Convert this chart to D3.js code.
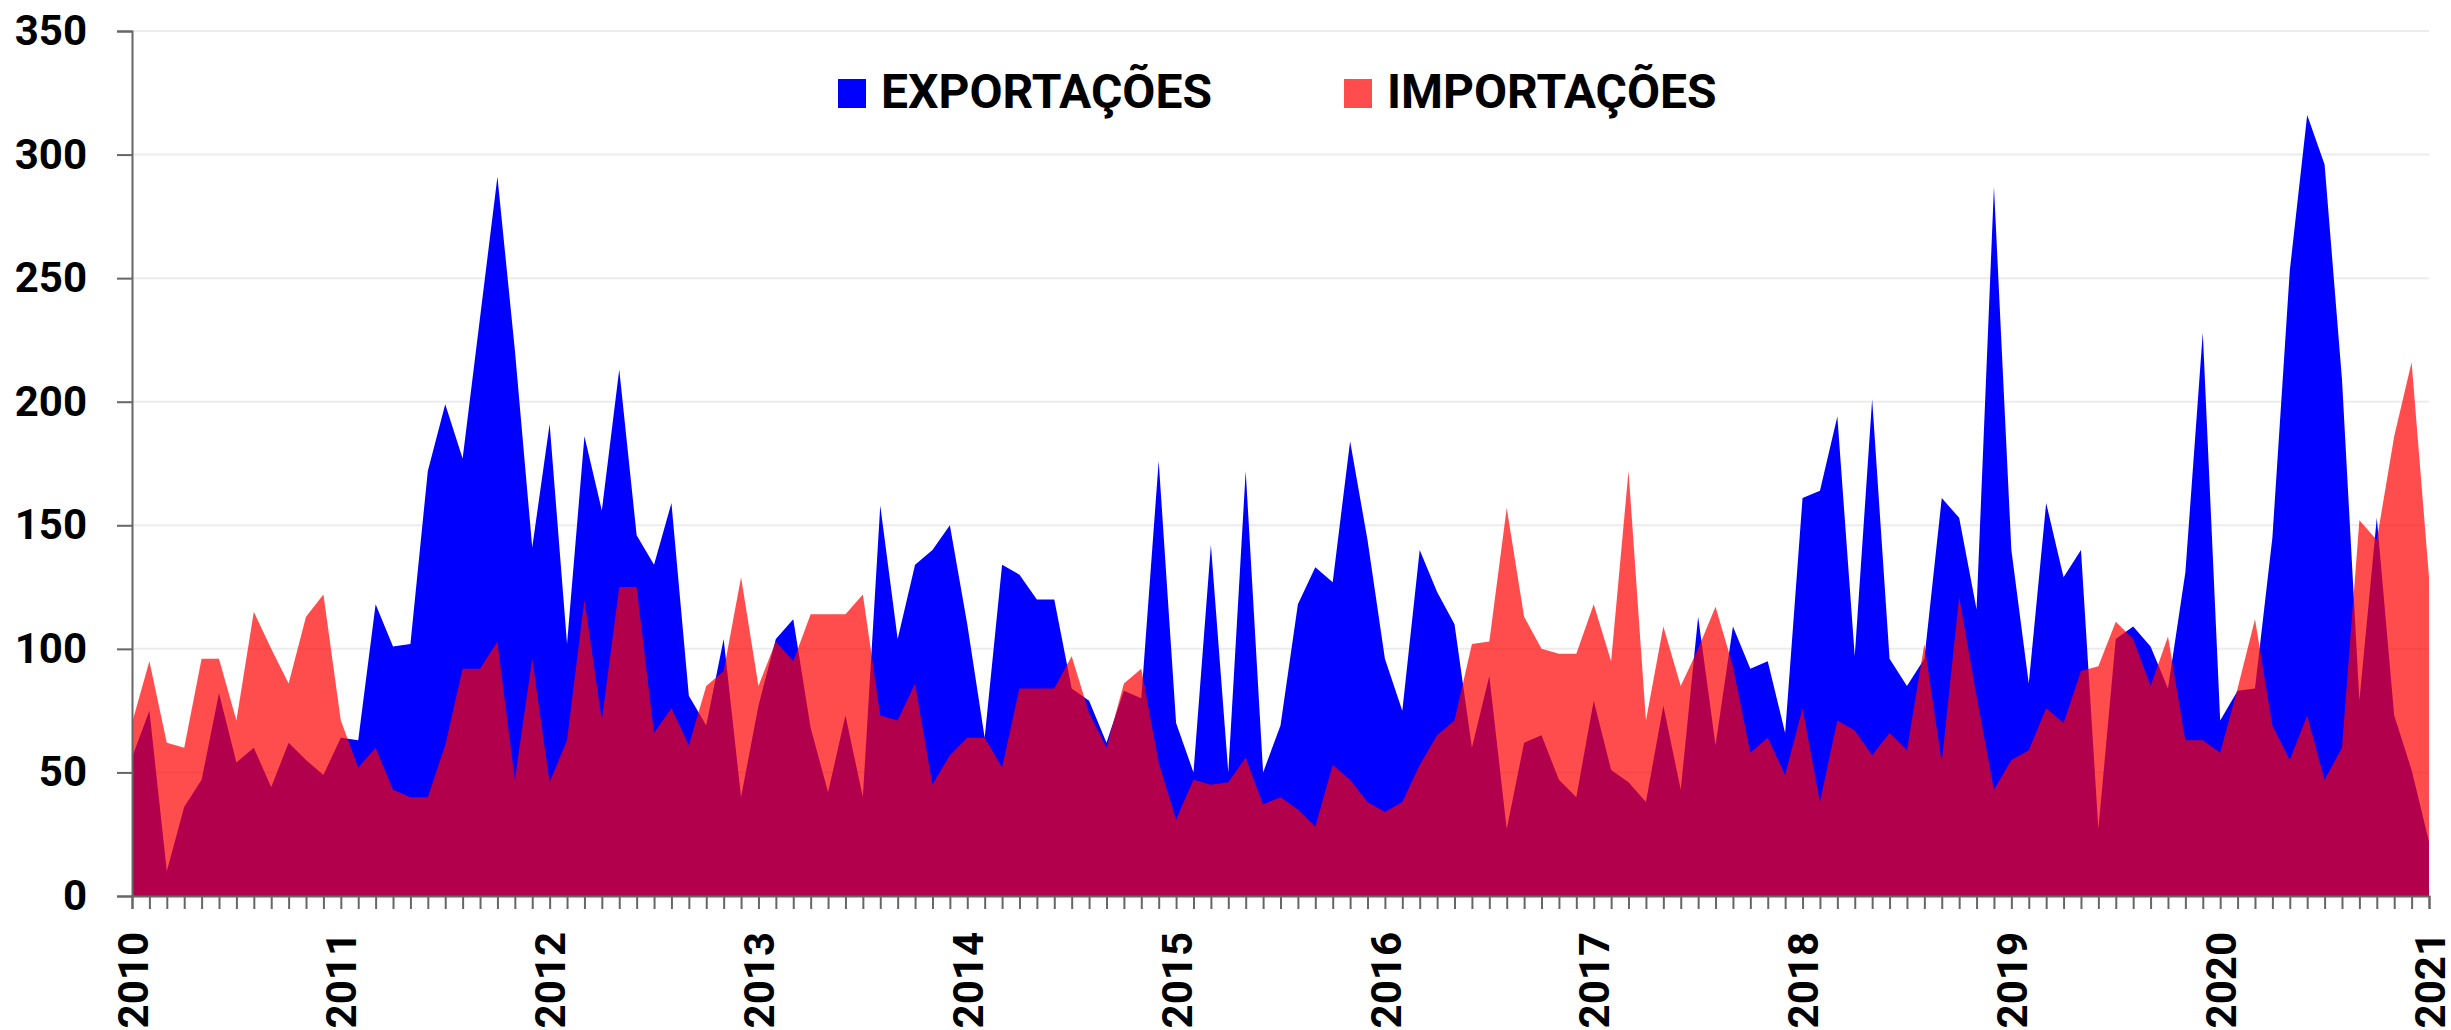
<!DOCTYPE html>
<html>
<head>
<meta charset="utf-8">
<script src="https://cdn.jsdelivr.net/npm/d3@7"></script>
<style>
  html, body { margin: 0; padding: 0; background: #fff; }
  svg { display: block; font-family: Roboto, "Noto Sans", sans-serif; }
</style>
</head>
<body>
<svg id="chart" width="2451" height="1030"></svg>
<script>
// Monthly values, January 2010 to January 2021
const yearLabels = ["2010","2011","2012","2013","2014","2015","2016","2017","2018","2019","2020","2021"];
const seriesNames = ["EXPORTAÇÕES", "IMPORTAÇÕES"];
const yTicks = [0, 50, 100, 150, 200, 250, 300, 350];

const exportacoes = [
  56, 75, 10, 36, 47, 82, 54, 60, 44, 62, 55, 49,
  64, 63, 118, 101, 102, 172, 199, 177, 234, 291, 221, 141,
  191, 102, 186, 156, 213, 146, 134, 159, 81, 69, 104, 40,
  77, 104, 112, 68, 42, 73, 40, 158, 104, 134, 140, 150,
  110, 64, 134, 130, 120, 120, 84, 79, 62, 83, 80, 176,
  70, 50, 142, 50, 172, 50, 69, 118, 133, 127, 184, 144,
  96, 75, 140, 123, 110, 60, 89, 27, 62, 65, 47, 40,
  79, 51, 46, 38, 77, 43, 113, 61, 109, 92, 95, 66,
  161, 164, 194, 97, 201, 96, 85, 96, 161, 153, 116, 287,
  140, 86, 159, 129, 140, 27, 104, 109, 101, 84, 131, 228,
  71, 83, 84, 145, 253, 316, 296, 209, 79, 153, 73, 51,
  22
];

const importacoes = [
  70, 95, 62, 60, 96, 96, 71, 115, 100, 86, 113, 122,
  71, 52, 60, 43, 40, 40, 61, 92, 92, 103, 47, 96,
  46, 63, 120, 71, 125, 125, 66, 76, 61, 85, 91, 129,
  85, 103, 95, 114, 114, 114, 122, 73, 71, 86, 45, 57,
  64, 64, 52, 84, 84, 84, 97, 74, 60, 86, 92, 54,
  31, 47, 45, 46, 56, 37, 40, 35, 28, 53, 47, 38,
  34, 38, 53, 65, 71, 102, 103, 157, 113, 100, 98, 98,
  118, 95, 172, 71, 109, 85, 100, 117, 93, 58, 64, 49,
  76, 38, 71, 67, 57, 66, 59, 102, 54, 121, 81, 43,
  55, 59, 76, 70, 91, 93, 111, 104, 85, 105, 63, 63,
  58, 84, 112, 69, 55, 73, 47, 60, 152, 144, 186, 216,
  129
];

const colors = { exp: "#0000ff", imp: "#ff0000" };
const impOpacity = 0.7;

const svg = d3.select("#chart");
const margin = { left: 132, right: 22, top: 31, bottom: 134 };
const W = 2451, H = 1030;

const x = d3.scaleLinear()
  .domain([0, exportacoes.length - 1])
  .range([margin.left, W - margin.right]);

const y = d3.scaleLinear()
  .domain([0, 350])
  .range([H - margin.bottom, margin.top]);

// horizontal gridlines
svg.append("g")
  .selectAll("line")
  .data(yTicks.slice(1))
  .join("line")
  .attr("x1", x(0))
  .attr("x2", x(exportacoes.length - 1))
  .attr("y1", d => y(d))
  .attr("y2", d => y(d))
  .attr("stroke", "#ececec")
  .attr("stroke-width", 2);

const area = d3.area()
  .x((d, i) => x(i))
  .y0(y(0))
  .y1(d => y(d));

svg.append("path")
  .datum(exportacoes)
  .attr("d", area)
  .attr("fill", colors.exp);

svg.append("path")
  .datum(importacoes)
  .attr("d", area)
  .attr("fill", colors.imp)
  .attr("fill-opacity", impOpacity);

// y axis
const yAxis = svg.append("g")
  .attr("transform", `translate(${margin.left},0)`)
  .call(d3.axisLeft(y).tickValues(yTicks).tickSize(15).tickPadding(30));
yAxis.select(".domain").attr("stroke", "#666").attr("stroke-width", 2);
yAxis.selectAll(".tick line").attr("stroke", "#666").attr("stroke-width", 2);
yAxis.selectAll(".tick text")
  .attr("fill", "#000")
  .attr("font-size", 42)
  .attr("font-weight", 700)
  .attr("font-family", "Roboto, sans-serif");

// x axis: one tick per month, year label every January
const monthIdx = d3.range(exportacoes.length);
const xAxis = svg.append("g")
  .attr("transform", `translate(0,${y(0)})`)
  .call(d3.axisBottom(x)
    .tickValues(monthIdx)
    .tickSize(13)
    .tickFormat(i => i % 12 === 0 ? yearLabels[i / 12] : ""));
xAxis.select(".domain").attr("stroke", "#666").attr("stroke-width", 2);
xAxis.selectAll(".tick line").attr("stroke", "#666").attr("stroke-width", 2);
xAxis.selectAll(".tick text")
  .attr("fill", "#000")
  .attr("font-size", 42)
  .attr("font-weight", 700)
  .attr("font-family", "Roboto, sans-serif")
  .attr("text-anchor", "end")
  .attr("transform", "rotate(-90)")
  .attr("x", -36)
  .attr("y", 0)
  .attr("dy", "0.36em");

// legend
const legend = svg.append("g");
const legendItems = [
  { name: seriesNames[0], color: colors.exp, opacity: 1, x: 838 },
  { name: seriesNames[1], color: colors.imp, opacity: impOpacity, x: 1344 }
];
const lg = legend.selectAll("g").data(legendItems).join("g")
  .attr("transform", d => `translate(${d.x},79)`);
lg.append("rect")
  .attr("width", 28).attr("height", 29)
  .attr("fill", d => d.color)
  .attr("fill-opacity", d => d.opacity);
lg.append("text")
  .attr("x", 43).attr("y", 29)
  .attr("font-size", 48)
  .attr("font-weight", 700)
  .attr("fill", "#000")
  .text(d => d.name);
</script>
</body>
</html>
